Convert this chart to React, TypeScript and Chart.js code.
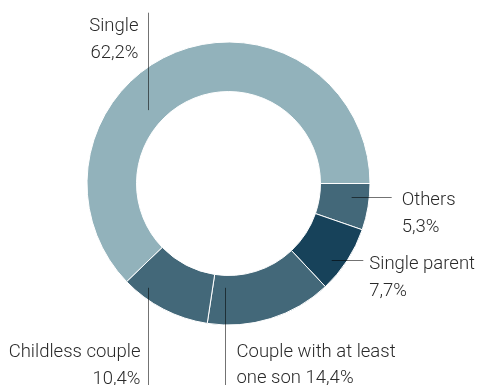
import React, { useEffect, useRef } from "react";
import { Chart, registerables } from "chart.js";

Chart.register(...registerables);

// Household composition, clockwise from 3 o'clock
const categories = ["Others", "Single parent", "Couple with at least one son", "Childless couple", "Single"];
const shares = [5.3, 7.7, 14.4, 10.4, 62.2];
const sliceColors = ["#436879", "#17425a", "#436879", "#436879", "#92b2bb"];

// Callout text: heading lines, then the share (with an optional lead-in) on the last line
const headLines = [["Others"], ["Single parent"], ["Couple with at least"], ["Childless couple"], ["Single"]];
const valuePrefixes = ["", "", "one son ", "", ""];

const formatShare = (v: number) => v.toFixed(1).replace(".", ",") + "%";

type Callout = {
  angle: number; // position along the slice (0..1)
  radial: number; // position across the ring (0 = inner edge, 1 = outer edge)
  dir: "up" | "down" | "right";
  reach: number; // line end, offset from the centre
  tx: number; // text x (from centre for "right", from line for up/down)
  ty: number; // first baseline (from anchor for "right", from centre for up/down)
  align: "left" | "right";
};

const callouts: Callout[] = [
  { angle: 0.327, radial: 0.644, dir: "right", reach: 163.2, tx: 173.2, ty: 7.5, align: "left" },
  { angle: 0.627, radial: 0.734, dir: "right", reach: 134.8, tx: 140.8, ty: 8.5, align: "left" },
  { angle: 0.87, radial: 0.25, dir: "down", reach: 205, tx: 11, ty: 173.2, align: "left" },
  { angle: 0.773, radial: 0.8, dir: "down", reach: 205, tx: -8, ty: 173.5, align: "right" },
  { angle: 0.3855, radial: 0.34, dir: "up", reach: -170.8, tx: -10, ty: -152.5, align: "right" },
];

const LINE_HEIGHT = 26.5;
const FONT = "300 18.5px Roboto, 'Helvetica Neue', Arial, sans-serif";

const calloutPlugin = {
  id: "callouts",
  afterDatasetsDraw(chart: any) {
    const ctx = chart.ctx as CanvasRenderingContext2D;
    const meta = chart.getDatasetMeta(0);
    ctx.save();
    ctx.font = FONT;
    meta.data.forEach((arc: any, i: number) => {
      const c = callouts[i];
      if (!c) return;
      const p = arc.getProps(["x", "y", "startAngle", "endAngle", "innerRadius", "outerRadius"], true);
      const a = p.startAngle + c.angle * (p.endAngle - p.startAngle);
      const r = p.innerRadius + c.radial * (p.outerRadius - p.innerRadius);
      let ax = p.x + r * Math.cos(a);
      let ay = p.y + r * Math.sin(a);

      ctx.strokeStyle = "rgba(0,0,0,0.55)";
      ctx.lineWidth = 1;
      ctx.beginPath();
      let textX: number;
      let baseY: number;
      if (c.dir === "right") {
        ay = Math.round(ay) + 0.5;
        ctx.moveTo(ax, ay);
        ctx.lineTo(p.x + c.reach, ay);
        textX = p.x + c.tx;
        baseY = ay + c.ty;
      } else {
        ax = Math.round(ax) + 0.5;
        ctx.moveTo(ax, ay);
        ctx.lineTo(ax, p.y + c.reach);
        textX = ax + c.tx;
        baseY = p.y + c.ty;
      }
      ctx.stroke();

      const lines = [...headLines[i], valuePrefixes[i] + formatShare(shares[i])];
      ctx.fillStyle = "#2a2a2a";
      ctx.textAlign = c.align;
      ctx.textBaseline = "alphabetic";
      lines.forEach((t, k) => ctx.fillText(t, textX, baseY + k * LINE_HEIGHT));
    });
    ctx.restore();
  },
};

export default function App() {
  const canvasRef = useRef<HTMLCanvasElement | null>(null);

  useEffect(() => {
    if (!canvasRef.current) return;
    const chart = new Chart(canvasRef.current, {
      type: "doughnut",
      data: {
        labels: categories,
        datasets: [
          {
            data: shares,
            backgroundColor: sliceColors,
            borderColor: "#ffffff",
            borderWidth: 1,
            hoverOffset: 0,
          },
        ],
      },
      options: {
        responsive: false,
        animation: false,
        rotation: 90,
        cutout: "65%",
        events: [],
        layout: { padding: { left: 86.5, right: 108.5, top: 41.5, bottom: 59.5 } },
        plugins: {
          legend: { display: false },
          tooltip: { enabled: false },
        },
      },
      plugins: [calloutPlugin],
    });
    return () => chart.destroy();
  }, []);

  return (
    <div style={{ position: "absolute", left: 0, top: 0, width: 479, height: 385, background: "#ffffff" }}>
      <canvas ref={canvasRef} width={479} height={385} style={{ display: "block" }} />
    </div>
  );
}
